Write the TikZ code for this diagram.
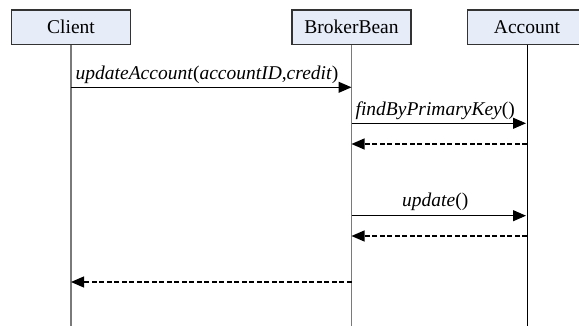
\documentclass[tikz,border=0pt]{standalone}
\usepackage{fontspec}
\newfontfamily\diagfont{Liberation Serif}
\usetikzlibrary{arrows.meta}
\definecolor{boxfill}{HTML}{E6ECF8}
\definecolor{boxline}{HTML}{333333}
\definecolor{lifegray}{HTML}{7A7A7A}
\begin{document}
\begin{tikzpicture}[x=1pt,y=-1pt,
  every node/.style={font=\diagfont\fontsize{19.5}{22}\selectfont},
  obj/.style={draw=boxline,line width=1.1pt,fill=boxfill,minimum width=119pt,minimum height=34.5pt,inner sep=0pt,anchor=north},
  life/.style={line width=1.1pt,draw=lifegray},
  msg/.style={line width=1.1pt,-{Triangle[length=13pt,width=11pt]}},
  reply/.style={msg,dash pattern=on 5pt off 2.5pt},
  lbl/.style={anchor=base,inner sep=0pt}]
\useasboundingbox (0,0) rectangle (579,326);
\clip (0,0) rectangle (579,326);

% participants
\node[obj] (client) at (71,9.5) {Client};
\node[obj] (broker) at (351.5,9.5) {BrokerBean};
\node[obj] (account) at (527,9.5) {Account};

% lifelines
\coordinate (clientend) at (71,326);
\coordinate (brokerend) at (351.5,326);
\coordinate (accountend) at (527,326);
\draw[life] (client.south) -- (clientend);
\draw[life] (broker.south) -- (brokerend);
\draw[line width=1pt] (account.south) -- (accountend);

% messages
\draw[msg] (client |- 0,87.3) -- (broker |- 0,87.3)
  node[lbl,pos=0.485,yshift=7.5pt] {\textit{updateAccount}(\textit{accountID},\textit{credit})};
\draw[msg] (broker |- 0,123.3) -- ([xshift=-1pt]account |- 0,123.3)
  node[lbl,pos=0.48,yshift=7.6pt] {\textit{findByPrimaryKey}()};
\draw[reply] (account |- 0,144) -- (broker |- 0,144);
\draw[msg] (broker |- 0,215.7) -- ([xshift=-1pt]account |- 0,215.7)
  node[lbl,pos=0.48,yshift=9pt] {\textit{update}()};
\draw[reply] (account |- 0,236) -- (broker |- 0,236);
\draw[reply] (broker |- 0,282) -- (client |- 0,282);
\end{tikzpicture}
\end{document}
